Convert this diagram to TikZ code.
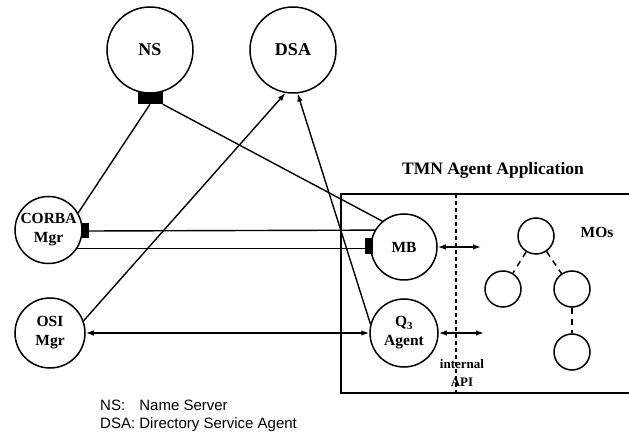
\documentclass[tikz,border=0pt]{standalone}
\usepackage{fontspec}
\setmainfont{Liberation Serif}
\newfontfamily\legendfont{Liberation Sans}
\usetikzlibrary{arrows.meta}
\tikzset{
  agent/.style={circle,draw,line width=1.5pt,inner sep=0pt,align=center,
    font=\fontsize{15.5}{19}\selectfont\bfseries},
  server/.style={agent,font=\fontsize{18}{20}\selectfont\bfseries},
  mo/.style={circle,draw,line width=1.5pt,minimum size=36pt,inner sep=0pt},
  port/.style={rectangle,fill=black,inner sep=0pt},
  link/.style={line width=1.4pt},
  msg/.style={link,-{Latex[length=8pt,width=5.5pt]}},
  both/.style={link,{Latex[length=8pt,width=5.5pt]}-{Latex[length=8pt,width=5.5pt]}},
  tree/.style={line width=1.5pt,dash pattern=on 6pt off 5pt},
  api/.style={line width=1.5pt,dash pattern=on 4pt off 3pt}
}

\begin{document}
\begin{tikzpicture}[x=1pt,y=-1pt]
    \useasboundingbox (0,0) rectangle (629,435);
    %
    % -- Servers on top
    \node[server,minimum size=86pt] (ns)  at (150,50) {NS};
    \node[server,minimum size=86pt] (dsa) at (293,50) {DSA};
    \node[port,minimum width=25pt,minimum height=12pt] (nsport) at (150,98) {};

    % -- Managers on the left
    \node[agent,minimum size=67pt] (corba) at (48.5,230) {CORBA\\Mgr};
    \node[port,minimum width=7pt,minimum height=15pt] (corbaport) at (85,231) {};
    \node[agent,minimum size=70pt] (osi) at (50,333) {OSI\\Mgr};

    % -- TMN agent application box
    \node[draw,line width=1.5pt,minimum width=290pt,minimum height=199pt] (app) at (486,293.5) {};
    \node[font=\fontsize{17.5}{20}\selectfont\bfseries] (apptitle) at (493,170) {TMN Agent Application};
    \coordinate (apitop) at (456,194);
    \coordinate (apibot) at (456,393);
    \draw[api] (apitop) -- (apibot);
    \node[font=\fontsize{13}{18}\selectfont\bfseries,align=center] (apitext) at (462,373) {internal\\API};

    % -- Agents inside the box
    \node[agent,minimum size=66pt] (mb) at (404,247) {MB};
    \node[port,minimum width=8pt,minimum height=16pt] (mbport) at (369,246) {};
    \node[agent,minimum size=68pt] (q3) at (404,333) {Q\textsubscript{3}\\Agent};
    \coordinate (mbapi) at (481,247);
    \coordinate (q3api) at (484,333);

    % -- Managed objects
    \node[mo] (mo1) at (536,236) {};
    \node[mo] (mo2) at (503,289) {};
    \node[mo] (mo3) at (572,289) {};
    \node[mo] (mo4) at (572,352) {};
    \node[font=\fontsize{15.5}{19}\selectfont\bfseries] (molabel) at (597,232) {MOs};

    % -- Draw the connections
    \draw[link] (corba.30) -- (nsport.south);
    \draw[link] (nsport.south east) -- (mb.130);
    \draw[link] (corbaport.east) -- (mb.150);
    \draw[link] (corba.-33) -- (corba.-33 -| mbport.west);
    \draw[msg] (osi.20) -- (dsa.260);
    \draw[msg] (q3.165) -- (dsa.276);
    \draw[both] (osi.east) -- (q3.west);
    \draw[both] (mb.east) -- (mbapi);
    \draw[both] (q3.east) -- (q3api);
    \draw[tree] (mo1) -- (mo2);
    \draw[tree] (mo1) -- (mo3);
    \draw[tree] (mo3) -- (mo4);

    % -- Legend
    \node[anchor=north west,inner sep=0pt,font=\legendfont\fontsize{15}{18}\selectfont] (legend) at (100,398)
      {\begin{tabular}{@{}l@{\ }l@{}}NS: & Name Server\\ DSA: & Directory Service Agent\end{tabular}};
\end{tikzpicture}
\end{document}
